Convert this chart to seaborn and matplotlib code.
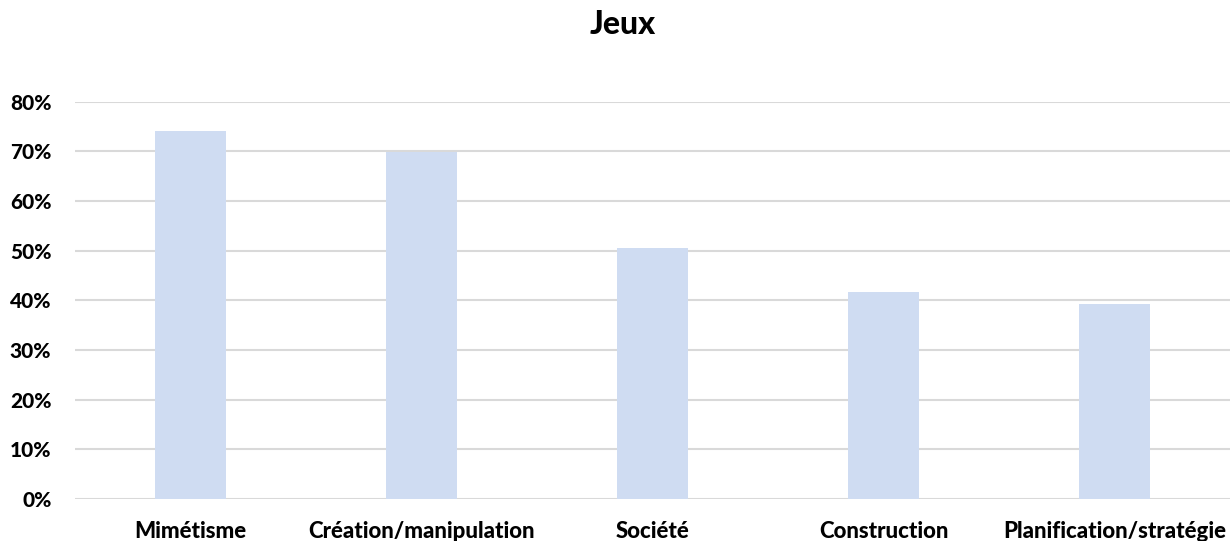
import seaborn as sns
import matplotlib.pyplot as plt
import pandas as pd
from matplotlib.ticker import PercentFormatter

# Data
categories = ['Mimétisme', 'Création/manipulation', 'Société', 'Construction', 'Planification/stratégie']
values = [0.741, 0.699, 0.505, 0.417, 0.393]
yticks = [0, 0.1, 0.2, 0.3, 0.4, 0.5, 0.6, 0.7, 0.8]

df = pd.DataFrame({'jeu': categories, 'part': values})

sns.set_style('white')
plt.rcParams['font.family'] = ['Lato', 'DejaVu Sans']
plt.rcParams['text.color'] = 'black'
plt.rcParams['xtick.color'] = 'black'
plt.rcParams['ytick.color'] = 'black'

f = plt.figure(figsize=(12.3, 5.41), dpi=100)
ax = f.add_axes([75 / 1230, 1 - 499 / 541, 1 - 75 / 1230, (499 - 101.7) / 541])

sns.barplot(data=df, x='jeu', y='part', color='#CFDCF2', saturation=1, width=0.31,
            linewidth=0, ax=ax, zorder=2)

ax.set_ylim(0, 0.8)
ax.set_yticks(yticks)
ax.yaxis.set_major_formatter(PercentFormatter(1.0, decimals=0))
ax.grid(axis='y', color='#D9D9D9', linewidth=1.5, zorder=0)
ax.set_axisbelow(True)
sns.despine(left=True, bottom=True, right=True, top=True)
ax.tick_params(axis='both', length=0)
ax.tick_params(axis='y', pad=17, labelsize=15)
ax.tick_params(axis='x', pad=16, labelsize=16)
for lab in ax.get_xticklabels() + ax.get_yticklabels():
    lab.set_fontweight('black')
ax.set_xlabel('')
ax.set_ylabel('')

f.suptitle('Jeux', fontsize=23, fontweight='black', x=623 / 1230, y=1 - 10 / 541, va='top')

f.savefig('out.png', dpi=100)
